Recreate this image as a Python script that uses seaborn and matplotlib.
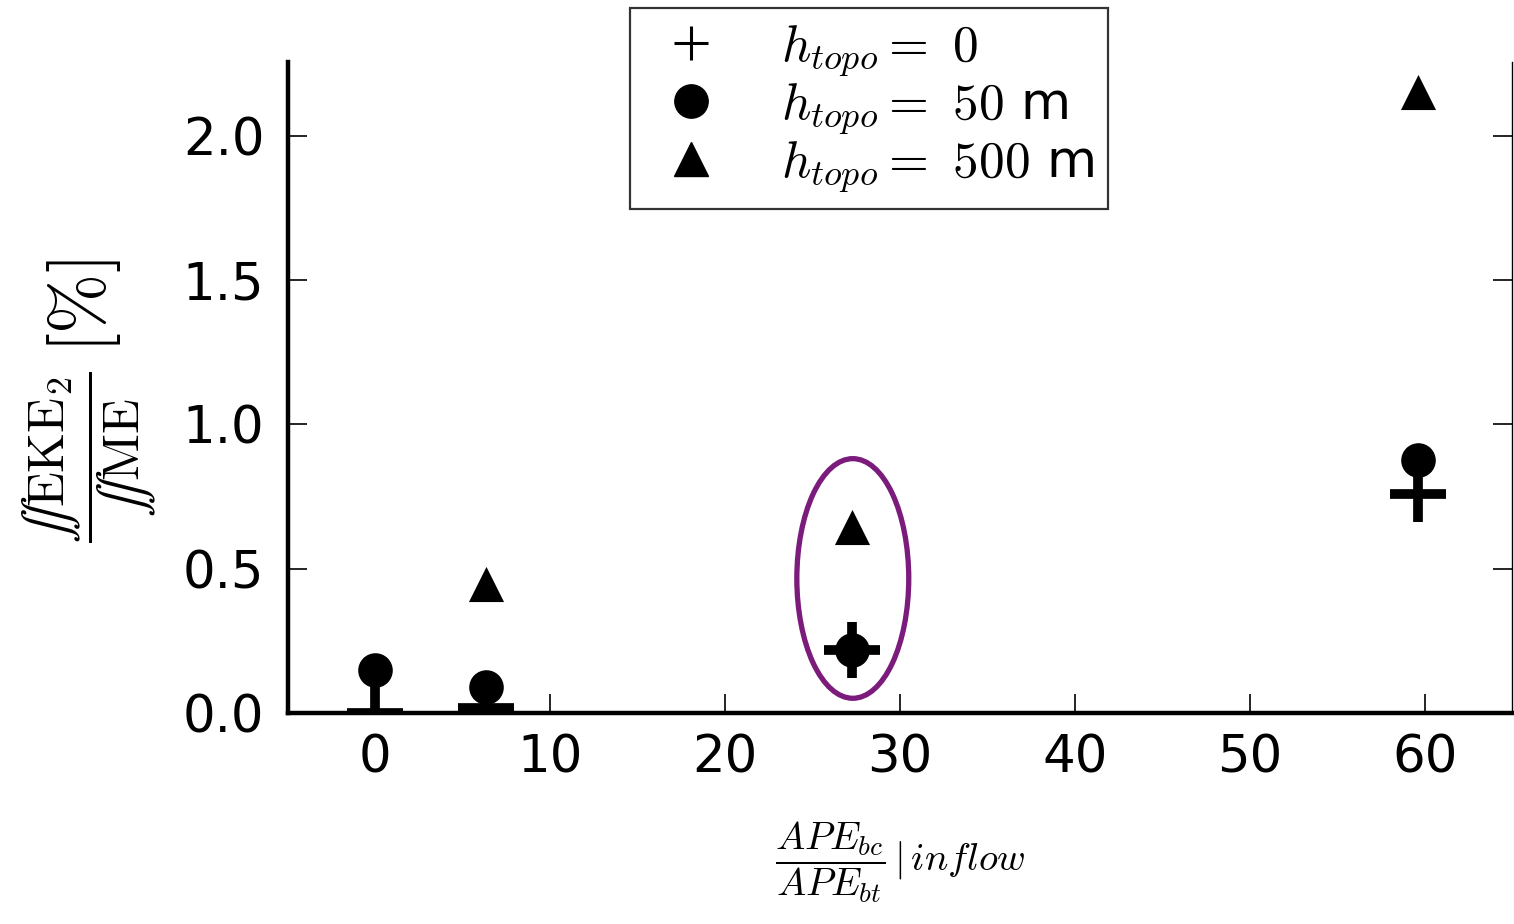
import matplotlib
matplotlib.use("Agg")
import matplotlib.pyplot as plt
import seaborn as sns
import pandas as pd
from matplotlib.patches import Ellipse
from matplotlib.lines import Line2D

# ---- data ----
x_h0 = [0.0, 6.3, 27.25, 59.65]
y_h0 = [0.0, 0.017, 0.218, 0.76]
x_h50 = [0.0, 6.3, 27.25, 59.65]
y_h50 = [0.149, 0.09, 0.218, 0.875]
x_h500 = [6.3, 27.25, 59.65]
y_h500 = [0.447, 0.645, 2.15]
legend_labels = [r"$h_{topo} =\ 0$", r"$h_{topo} =\ 50$ m", r"$h_{topo} =\ 500$ m"]
x_ticks = [0, 10, 20, 30, 40, 50, 60]
y_ticks = [0.0, 0.5, 1.0, 1.5, 2.0]

sns.set_style("ticks")
plt.rcParams["font.family"] = ["DejaVu Sans"]
plt.rcParams["mathtext.fontset"] = "cm"
plt.rcParams["text.color"] = "black"
plt.rcParams["axes.labelcolor"] = "black"
plt.rcParams["xtick.color"] = "black"
plt.rcParams["ytick.color"] = "black"

fig = plt.figure(figsize=(15.14, 9.24), dpi=100)
ax = fig.add_axes([288 / 1514, 1 - 713 / 924, (1512 - 288) / 1514, (713 - 62) / 924])

df0 = pd.DataFrame({"x": x_h0, "y": y_h0})
df50 = pd.DataFrame({"x": x_h50, "y": y_h50})
df500 = pd.DataFrame({"x": x_h500, "y": y_h500})

sns.scatterplot(data=df0, x="x", y="y", marker="+", s=1600, color="black",
                linewidth=7, ax=ax, legend=False)
sns.scatterplot(data=df50, x="x", y="y", marker="o", s=620, color="black",
                edgecolor="black", linewidth=0, ax=ax, legend=False)
sns.scatterplot(data=df500, x="x", y="y", marker="^", s=640, color="black",
                edgecolor="black", linewidth=0, ax=ax, legend=False)

ell = Ellipse((27.3, 0.466), 6.4, 0.83, fill=False, edgecolor="#7b1c7d", linewidth=3.8, zorder=3)
ax.add_patch(ell)

ax.set_xlim(-5, 65)
ax.set_ylim(0, 2.255)
ax.set_xticks(x_ticks)
ax.set_yticks(y_ticks)
ax.set_yticklabels([f"{v:.1f}" for v in y_ticks])

ax.spines["top"].set_visible(False)
ax.spines["right"].set_visible(True)
ax.spines["left"].set_linewidth(3.2)
ax.spines["bottom"].set_linewidth(3.2)
ax.spines["right"].set_linewidth(1.0)
for s in ax.spines.values():
    s.set_color("black")

ax.tick_params(axis="both", direction="in", length=14, width=1.2, labelsize=37,
               color="black", labelcolor="black")
ax.tick_params(axis="y", right=True, pad=17)
ax.tick_params(axis="x", top=False, pad=15)

ax.set_xlabel(r"$\dfrac{APE_{bc}}{APE_{bt}}\,|\,inflow$", fontsize=28, labelpad=26)
ax.set_ylabel(r"$\dfrac{\iint\mathrm{EKE}_2}{\iint\mathrm{ME}}$", fontsize=37)
ax.yaxis.set_label_coords(-0.106, 0.393)
ax.text(-0.167, 0.625, r"$[\%]$", transform=ax.transAxes, rotation=90,
        ha="center", va="center", fontsize=52)

handles = [
    Line2D([], [], linestyle="none", marker="+", markersize=24, markeredgewidth=2.2, color="black"),
    Line2D([], [], linestyle="none", marker="o", markersize=24, color="black"),
    Line2D([], [], linestyle="none", marker="^", markersize=25, color="black"),
]
leg = ax.legend(handles, legend_labels, loc="upper left",
                bbox_to_anchor=(630 / 1514, 1 - 8 / 924), bbox_transform=fig.transFigure,
                borderaxespad=0, fontsize=37, frameon=True, fancybox=False,
                handletextpad=0.85, labelspacing=0.02, borderpad=0.28, handlelength=1.8)
leg.get_frame().set_edgecolor("black")
leg.get_frame().set_linewidth(1.6)

fig.savefig("out.png", dpi=100)
